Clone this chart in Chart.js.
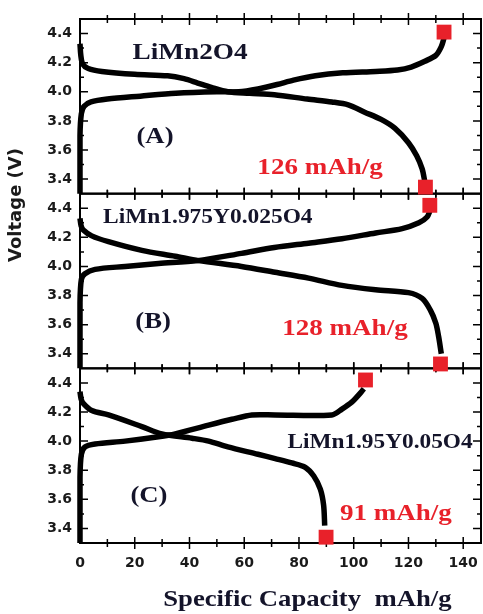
<!DOCTYPE html>
<html><head><meta charset="utf-8">
<script src="https://cdn.jsdelivr.net/npm/chart.js@4"></script>
<style>html,body{margin:0;padding:0;background:#fff;}#wrap{width:483px;height:614px;position:relative;}</style>
</head><body><div id="wrap"><canvas id="c" width="483" height="614"></canvas></div>
<script>
// ---- data ----
const xTicks = [0, 20, 40, 60, 80, 100, 120, 140];
const yTicks = [3.4, 3.6, 3.8, 4.0, 4.2, 4.4];

const capChargeA  = [0, 0, 0.5, 1.5, 4, 10, 22, 35, 50, 58, 65, 72, 78, 86, 96, 108, 116, 121, 126, 130, 132, 133];
const voltChargeA = [3.30, 3.70, 3.85, 3.90, 3.93, 3.95, 3.97, 3.99, 4.00, 4.00, 4.02, 4.05, 4.08, 4.11, 4.13, 4.14, 4.15, 4.17, 4.21, 4.25, 4.31, 4.37];
const capDischA   = [0, 0.3, 1, 3, 8, 20, 32, 38, 43, 48, 54, 62, 71, 83, 92, 98, 104, 110, 115, 120, 123, 125, 126];
const voltDischA  = [4.33, 4.25, 4.19, 4.16, 4.14, 4.12, 4.11, 4.09, 4.06, 4.03, 4.00, 3.99, 3.98, 3.95, 3.93, 3.91, 3.86, 3.81, 3.75, 3.65, 3.56, 3.47, 3.38];

const capChargeB  = [0, 0, 0.5, 1.8, 5.5, 16.5, 28.7, 43, 59, 71, 83.5, 95.7, 108, 117.7, 123.8, 126.8, 128];
const voltChargeB = [3.30, 3.75, 3.91, 3.95, 3.98, 4.00, 4.02, 4.04, 4.09, 4.13, 4.16, 4.19, 4.23, 4.26, 4.30, 4.34, 4.39];
const capDischB   = [0, 0.4, 1.2, 4.3, 10.4, 22.6, 34.8, 43.3, 59, 71.3, 83.5, 95.7, 108, 120, 125, 128, 130, 131, 132];
const voltDischB  = [4.33, 4.28, 4.25, 4.21, 4.17, 4.11, 4.07, 4.04, 4.00, 3.96, 3.92, 3.87, 3.84, 3.82, 3.78, 3.70, 3.61, 3.52, 3.40];

const capChargeC  = [0, 0, 0.5, 1.8, 5.5, 16.5, 28.7, 34.8, 47, 55.5, 62.8, 71.3, 92, 95.7, 99.4, 102.4, 103.7];
const voltChargeC = [3.30, 3.75, 3.91, 3.96, 3.98, 4.00, 4.03, 4.05, 4.11, 4.15, 4.18, 4.18, 4.18, 4.22, 4.27, 4.33, 4.36];
const capDischC   = [0, 0.4, 1.2, 4.3, 10.4, 22.6, 29.9, 40.9, 47, 54, 65, 71.3, 77.4, 82.3, 85.4, 87.8, 89, 89.4];
const voltDischC  = [4.34, 4.29, 4.26, 4.21, 4.18, 4.10, 4.05, 4.02, 4.00, 3.96, 3.91, 3.88, 3.85, 3.82, 3.76, 3.67, 3.56, 3.42];

// end-point markers [capacity, voltage]
const endCapA = [133, 126.2];   const endVoltA = [4.41, 3.345];
const endCapB = [127.8, 131.7]; const endVoltB = [4.42, 3.33];
const endCapC = [104.3, 89.9];  const endVoltC = [4.42, 3.34];

const compounds  = ['LiMn2O4', 'LiMn1.975Y0.025O4', 'LiMn1.95Y0.05O4'];
const panelTags  = ['(A)', '(B)', '(C)'];
const capacities = ['126 mAh/g', '128 mAh/g', '91 mAh/g'];
const xTitle = 'Specific Capacity  mAh/g';
const yTitle = 'Voltage (V)';

// ---- chart ----
const RED = '#e8212a';
const pts = (xs, ys) => xs.map((x, i) => ({x: x, y: ys[i]}));
function curve(xs, ys, axis) {
  return {data: pts(xs, ys), yAxisID: axis, showLine: true, borderColor: '#000', backgroundColor: '#000',
    borderWidth: 5.5, pointRadius: 0, tension: 0.3, clip: false, order: 1};
}
function marks(xs, ys, axis) {
  return {data: pts(xs, ys), yAxisID: axis, showLine: false, pointStyle: 'rect', pointRadius: 10.5,
    backgroundColor: RED, borderColor: RED, borderWidth: 0, clip: false, order: 0};
}

const tickFont = {family: 'DejaVu Sans', weight: 'bold', size: 14};
function yScale() {
  return {
    type: 'linear', position: 'left', stack: 'v', stackWeight: 1, min: 3.3, max: 4.5,
    grid: {display: false, drawTicks: false}, border: {display: false},
    ticks: {font: tickFont, color: '#1a1a1a', padding: 8, callback: v => Number(v).toFixed(1)},
    afterBuildTicks: s => { s.ticks = yTicks.map(v => ({value: v})); },
    afterFit: s => { s.width = 80; s.paddingTop = 0; s.paddingBottom = 0; }
  };
}

// label anchor positions (data coordinates of each panel)
const labelPos = {
  compound: [[40.2, 4.266], [46.7, 4.334], [109.6, 3.99]],
  tag:      [[27.4, 3.686], [26.7, 3.617], [25.2, 3.624]],
  cap:      [[87.7, 3.479], [96.8, 3.569], [115.4, 3.50]]
};
const compoundSize = [23.5, 20.2, 20.1];

function stretchText(ctx, s, x, y, font, color, sx) {
  ctx.save();
  ctx.font = font; ctx.fillStyle = color; ctx.textAlign = 'center'; ctx.textBaseline = 'middle';
  ctx.translate(x, y); ctx.scale(sx, 1); ctx.fillText(s, 0, 0);
  ctx.restore();
}

const framePlugin = {
  id: 'frames',
  beforeDatasetsDraw(chart) {
    const ctx = chart.ctx, ca = chart.chartArea, xs = chart.scales.x;
    ctx.save();
    ctx.strokeStyle = '#000';
    ['yA', 'yB', 'yC'].forEach(id => {
      const s = chart.scales[id];
      ctx.lineWidth = 2;
      ctx.strokeRect(ca.left, s.top, ca.right - ca.left, s.bottom - s.top);
      ctx.lineWidth = 1.5;
      ctx.beginPath();
      for (let v = 10; v <= 140; v += 10) {
        const px = xs.getPixelForValue(v);
        const len = (v % 20 === 0) ? 6 : 4;
        ctx.moveTo(px, s.top - len); ctx.lineTo(px, s.top + len);
        ctx.moveTo(px, s.bottom - len); ctx.lineTo(px, s.bottom + len);
      }
      for (let k = 34; k <= 44; k++) {
        const py = s.getPixelForValue(k / 10);
        const len = (k % 2 === 0) ? 8 : 4;
        ctx.moveTo(ca.left, py); ctx.lineTo(ca.left + len, py);
        ctx.moveTo(ca.right, py); ctx.lineTo(ca.right - len, py);
      }
      ctx.stroke();
    });
    ctx.restore();
  },
  afterDraw(chart) {
    const ctx = chart.ctx, ca = chart.chartArea, xs = chart.scales.x;
    const ids = ['yA', 'yB', 'yC'];
    const SX = 1.16;
    ids.forEach((id, i) => {
      const s = chart.scales[id];
      let p = labelPos.compound[i];
      stretchText(ctx, compounds[i], xs.getPixelForValue(p[0]), s.getPixelForValue(p[1]),
        'bold ' + compoundSize[i] + 'px "Liberation Serif"', '#14142a', SX);
      p = labelPos.tag[i];
      stretchText(ctx, panelTags[i], xs.getPixelForValue(p[0]), s.getPixelForValue(p[1]),
        'bold 23px "Liberation Serif"', '#14142a', SX);
      p = labelPos.cap[i];
      stretchText(ctx, capacities[i], xs.getPixelForValue(p[0]), s.getPixelForValue(p[1]),
        'bold 23.3px "Liberation Serif"', RED, SX);
    });
    // axis titles
    stretchText(ctx, xTitle, ca.left + (ca.right - ca.left) * 0.567, ca.bottom + 57,
      'bold 23px "Liberation Serif"', '#14142a', SX);
    ctx.save();
    ctx.translate(16, (chart.scales.yA.top + chart.scales.yC.bottom) / 2 - 76);
    ctx.rotate(-Math.PI / 2);
    ctx.font = 'bold 18px "DejaVu Sans"'; ctx.fillStyle = '#1a1a1a';
    ctx.textAlign = 'center'; ctx.textBaseline = 'middle';
    ctx.fillText(yTitle, 0, 0);
    ctx.restore();
  }
};

new Chart(document.getElementById('c'), {
  type: 'scatter',
  data: {
    datasets: [
      marks(endCapA, endVoltA, 'yA'), marks(endCapB, endVoltB, 'yB'), marks(endCapC, endVoltC, 'yC'),
      curve(capChargeA, voltChargeA, 'yA'), curve(capDischA, voltDischA, 'yA'),
      curve(capChargeB, voltChargeB, 'yB'), curve(capDischB, voltDischB, 'yB'),
      curve(capChargeC, voltChargeC, 'yC'), curve(capDischC, voltDischC, 'yC')
    ]
  },
  options: {
    responsive: false, animation: false, devicePixelRatio: 1,
    layout: {autoPadding: false, padding: {top: 19, right: 2, left: 0, bottom: 0}},
    plugins: {legend: {display: false}, tooltip: {enabled: false}},
    scales: {
      x: {
        type: 'linear', position: 'bottom', min: 0, max: 146.5,
        grid: {display: false, drawTicks: false}, border: {display: false},
        ticks: {font: tickFont, color: '#1a1a1a', padding: 12},
        afterBuildTicks: s => { s.ticks = xTicks.map(v => ({value: v})); },
        afterFit: s => { s.height = 71; s.paddingLeft = 0; s.paddingRight = 0; }
      },
      yC: yScale(),
      yB: yScale(),
      yA: yScale()
    }
  },
  plugins: [framePlugin]
});
</script></body></html>
